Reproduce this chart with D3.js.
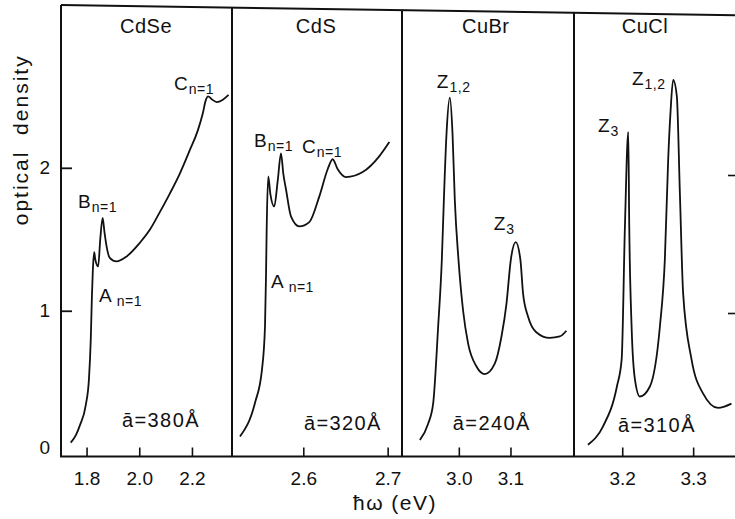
<!DOCTYPE html>
<html>
<head>
<meta charset="utf-8">
<script src="https://cdn.jsdelivr.net/npm/d3@7"></script>
<style>
  body { margin: 0; background: #fff; }
  svg { display: block; }
  text { font-family: "Liberation Sans", Arial, sans-serif; fill: #111; }
</style>
</head>
<body>
<svg id="chart" width="735" height="519"></svg>
<script>
// Panel categories and annotations
const materials = ["CdSe", "CdS", "CuBr", "CuCl"];
const radiusLabels = ["ā=380Å", "ā=320Å", "ā=240Å", "ā=310Å"];
const energyDomains = [[1.703, 2.352], [2.5155, 2.717], [2.890, 3.223], [3.132, 3.359]];
const xTickValues = [[1.8, 2.0, 2.2], [2.6, 2.7], [3.0, 3.1], [3.2, 3.3]];
const yTickValues = [0, 1, 2];
const rightTickValues = [1, 2];

// Absorption spectra: photon energy (eV) and optical density
const cdseEnergy = [1.740, 1.7595, 1.775, 1.797, 1.809, 1.816, 1.820, 1.824, 1.829, 1.833, 1.844, 1.852, 1.861, 1.868, 1.876, 1.888, 1.914, 1.952, 2.002, 2.040, 2.078, 2.116, 2.154, 2.191, 2.222, 2.241, 2.252, 2.261, 2.275, 2.294, 2.316, 2.339];
const cdseOD     = [0.077, 0.13, 0.20, 0.34, 0.52, 0.80, 1.08, 1.29, 1.41, 1.36, 1.31, 1.50, 1.65, 1.55, 1.45, 1.37, 1.345, 1.38, 1.475, 1.566, 1.69, 1.82, 1.96, 2.12, 2.26, 2.38, 2.47, 2.50, 2.48, 2.46, 2.475, 2.51];

const cdsEnergy = [2.525, 2.5428, 2.551, 2.5546, 2.5558, 2.5566, 2.5585, 2.5609, 2.5656, 2.5697, 2.5736, 2.5763, 2.5795, 2.5854, 2.5953, 2.6071, 2.619, 2.6289, 2.6348, 2.6408, 2.6506, 2.6704, 2.690, 2.702];
const cdsOD     = [0.12, 0.357, 0.587, 0.888, 1.24, 1.57, 1.94, 1.82, 1.73, 1.91, 2.10, 1.96, 1.85, 1.66, 1.59, 1.62, 1.80, 1.99, 2.06, 1.99, 1.935, 1.97, 2.08, 2.18];

const cubrEnergy = [2.9246, 2.9406, 2.9503, 2.960, 2.9671, 2.971, 2.9762, 2.9826, 2.9878, 2.9923, 2.9994, 3.0083, 3.018, 3.0342, 3.0503, 3.0696, 3.0826, 3.0923, 3.1006, 3.1103, 3.1193, 3.1244, 3.134, 3.150, 3.176, 3.1954, 3.2083];
const cubrOD     = [0.096, 0.21, 0.35, 0.89, 1.355, 1.77, 2.24, 2.49, 2.24, 1.77, 1.355, 1.0, 0.77, 0.61, 0.557, 0.63, 0.82, 1.05, 1.355, 1.48, 1.355, 1.12, 0.96, 0.85, 0.81, 0.82, 0.86];

const cuclEnergy = [3.1517, 3.1728, 3.1925, 3.1992, 3.2038, 3.2085, 3.2099, 3.2132, 3.2179, 3.2249, 3.239, 3.2531, 3.2601, 3.2648, 3.2682, 3.2718, 3.2770, 3.2813, 3.2859, 3.2977, 3.3141, 3.3352, 3.354];
const cuclOD     = [0.063, 0.19, 0.47, 0.66, 1.59, 2.25, 1.59, 0.89, 0.52, 0.40, 0.47, 0.89, 1.36, 2.06, 2.40, 2.615, 2.50, 1.82, 1.12, 0.66, 0.42, 0.32, 0.35];

const spectra = [
  [cdseEnergy, cdseOD],
  [cdsEnergy, cdsOD],
  [cubrEnergy, cubrOD],
  [cuclEnergy, cuclOD]
];

// Exciton labels: panel, main letter, subscript, anchor (energy, OD)
const excitonPanel = [0, 0, 0, 1, 1, 1, 2, 2, 3, 3];
const excitonMain  = ["C", "B", "A", "B", "C", "A", "Z", "Z", "Z", "Z"];
const excitonSub   = ["n=1", "n=1", "n=1", "n=1", "n=1", "n=1", "1,2", "3", "3", "1,2"];
const excitonE     = [2.1319, 1.7675, 1.8472, 2.5416, 2.5985, 2.5617, 2.9575, 3.0675, 3.1658, 3.2137];
const excitonOD    = [2.543, 1.718, 1.061, 2.143, 2.103, 1.159, 2.557, 1.564, 2.25, 2.578];

// Anchor positions for panel title and radius label (energy, OD)
const titleE  = [2.0256, 2.6151, 3.0521, 3.232];
const titleOD = 2.942;
const radiusE  = [1.9345, 2.6008, 2.9884, 3.194];
const radiusOD = [0.187, 0.166, 0.166, 0.152];

// ---- layout ----
const svg = d3.select("#chart");
const panelEdges = [61, 232, 402, 574, 735];
const yBottom = 456.5;
const y = d3.scaleLinear().domain([0, 3.139]).range([453.7, 5]);
const yRight = d3.scaleLinear().domain([0, 3]).range([451, 37]);
const xScales = energyDomains.map((dom, i) =>
  d3.scaleLinear().domain(dom).range([panelEdges[i], panelEdges[i + 1]]));

const ink = "#111";

// Frame: top edge, left axis, panel dividers, bottom axis
const topLeft = y(3.139), topRight = y(3.068);
const topAt = px => topLeft + (topRight - topLeft) * (px - panelEdges[0]) / (panelEdges[4] - panelEdges[0]);
const frame = svg.append("g").attr("fill", "none").attr("stroke", ink).attr("stroke-width", 2);
frame.append("line").attr("x1", panelEdges[0]).attr("y1", topLeft).attr("x2", panelEdges[4]).attr("y2", topRight);
frame.append("line").attr("x1", panelEdges[0] - 1).attr("y1", yBottom).attr("x2", panelEdges[4]).attr("y2", yBottom);
panelEdges.slice(0, 4).forEach(px => {
  frame.append("line").attr("x1", px).attr("y1", topAt(px)).attr("x2", px).attr("y2", yBottom);
});

// Left y axis (ticks pointing into the plot)
const yAxisG = svg.append("g").attr("transform", `translate(${panelEdges[0]},0)`)
  .call(d3.axisLeft(y).tickValues(yTickValues).tickFormat(d3.format("d")).tickSize(-11).tickPadding(11));
yAxisG.select(".domain").remove();
yAxisG.selectAll(".tick line").attr("stroke", ink).attr("stroke-width", 1.8);
yAxisG.selectAll(".tick text").attr("font-size", 19).attr("font-family", "Liberation Sans, Arial, sans-serif").attr("fill", ink);
yAxisG.selectAll(".tick").filter(d => d === 0).each(function () {
  d3.select(this).select("line").remove();
  d3.select(this).select("text").attr("dy", "-0.02em");
});

// Right-hand ticks
const rAxisG = svg.append("g").attr("transform", `translate(${panelEdges[4]},0)`)
  .call(d3.axisRight(yRight).tickValues(rightTickValues).tickSize(-7).tickFormat(""));
rAxisG.select(".domain").remove();
rAxisG.selectAll(".tick line").attr("stroke", ink).attr("stroke-width", 1.6);

// Bottom axes, one per panel
xScales.forEach((xs, i) => {
  const g = svg.append("g").attr("transform", `translate(0,${yBottom})`)
    .call(d3.axisBottom(xs).tickValues(xTickValues[i]).tickFormat(d3.format(".1f")).tickSize(-9).tickPadding(15));
  g.select(".domain").remove();
  g.selectAll(".tick line").attr("stroke", ink).attr("stroke-width", 1.6);
  g.selectAll(".tick text").attr("font-size", 19).attr("font-family", "Liberation Sans, Arial, sans-serif").attr("fill", ink);
});

// Spectra
spectra.forEach(([es, ods], i) => {
  const xs = xScales[i];
  const line = d3.line().x(d => xs(d[0])).y(d => y(d[1])).curve(d3.curveMonotoneX);
  svg.append("path")
    .datum(es.map((e, k) => [e, ods[k]]))
    .attr("d", line)
    .attr("fill", "none")
    .attr("stroke", ink)
    .attr("stroke-width", 1.8)
    .attr("stroke-linejoin", "round");
});

// Panel titles
materials.forEach((m, i) => {
  svg.append("text")
    .attr("x", xScales[i](titleE[i]))
    .attr("y", y(titleOD))
    .attr("text-anchor", "middle")
    .attr("font-size", 20)
    .attr("letter-spacing", 0.5)
    .text(m);
});

// Mean radius labels
radiusLabels.forEach((t, i) => {
  svg.append("text")
    .attr("x", xScales[i](radiusE[i]))
    .attr("y", y(radiusOD[i]))
    .attr("font-size", 20)
    .attr("letter-spacing", 1.4)
    .text(t);
});

// Exciton labels with subscripts
excitonMain.forEach((m, k) => {
  const xs = xScales[excitonPanel[k]];
  const t = svg.append("text")
    .attr("x", xs(excitonE[k]))
    .attr("y", y(excitonOD[k]))
    .attr("font-size", 19);
  t.append("tspan").text(m);
  t.append("tspan")
    .attr("font-size", 14)
    .attr("dy", 4)
    .attr("dx", m === "A" ? 5 : 1)
    .attr("letter-spacing", 0.5)
    .text(excitonSub[k]);
});

// Axis titles
svg.append("text")
  .attr("x", 395)
  .attr("y", 510)
  .attr("text-anchor", "middle")
  .attr("font-size", 21)
  .attr("letter-spacing", 1.5)
  .text("ħω (eV)");

svg.append("text")
  .attr("transform", `translate(28,${y(2.196)}) rotate(-90)`)
  .attr("text-anchor", "middle")
  .attr("font-size", 21)
  .attr("letter-spacing", 2)
  .attr("xml:space", "preserve")
  .text("optical  density");
</script>
</body>
</html>
